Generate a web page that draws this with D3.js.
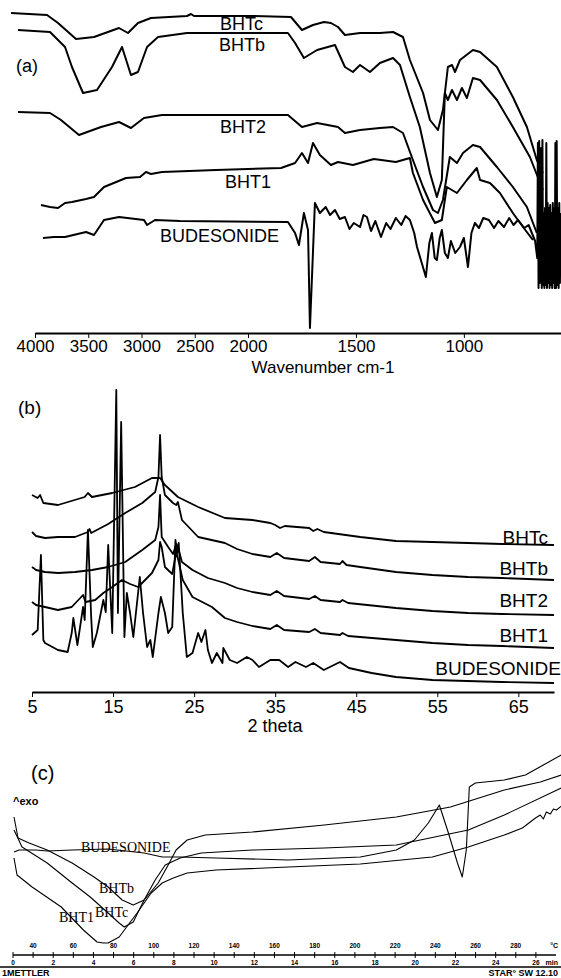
<!DOCTYPE html>
<html>
<head>
<meta charset="utf-8">
<style>
  body { margin: 0; background: #fff; }
  svg { display: block; }
  .ax text { font-family: Arial, "Liberation Sans", sans-serif; fill: #000; }
  .ax path, .ax line { stroke: #000; }
</style>
</head>
<body>
<svg id="chart" width="561" height="978"></svg>
<script src="https://cdn.jsdelivr.net/npm/d3@7"></script>
<script>
// ---------- (a) FTIR : [wavenumber cm-1, transmittance (a.u., offset)] ----------
const ftirTicks = [4000, 3500, 3000, 2500, 2000, 1500, 1000];
const ftirBHTc = [[4225,320],[3887,318],[3784,310],[3615,294],[3446,296],[3211,305],[3127,300],[3033,310],[2911,315],[2573,317],[2535,319],[2507,317],[1981,317],[1801,316],[1750,303],[1699,308],[1648,311],[1616,310],[1583,306],[1551,298],[1481,300],[1389,300],[1328,301],[1282,296],[1250,273],[1189,240],[1157,213],[1120,203],[1097,223],[1074,266],[1055,268],[1041,261],[1018,273],[958,283],[925,281],[847,266],[773,236],[708,206],[662,173],[634,160]];
const ftirBHTb = [[4160,303],[3859,301],[3718,286],[3653,266],[3549,240],[3418,243],[3277,266],[3183,286],[3099,258],[3033,261],[2948,286],[2845,296],[2573,300],[1815,300],[1782,290],[1741,275],[1680,283],[1597,288],[1551,266],[1514,261],[1481,268],[1435,261],[1389,270],[1328,275],[1296,268],[1250,236],[1204,206],[1157,160],[1125,136],[1102,153],[1088,240],[1074,233],[1055,243],[1032,233],[1009,245],[986,235],[958,255],[925,253],[847,233],[773,206],[694,176],[634,143]];
const ftirBHT2 = [[4160,221],[3859,220],[3756,213],[3587,198],[3380,206],[3211,211],[3099,205],[2977,215],[2808,218],[1815,218],[1750,206],[1680,210],[1583,206],[1551,200],[1481,203],[1389,205],[1328,206],[1282,200],[1236,173],[1189,146],[1143,123],[1120,120],[1097,133],[1065,176],[1032,170],[1004,180],[958,188],[925,186],[847,166],[773,146],[708,126],[662,100]];
const ftirBHT1 = [[3944,128],[3859,126],[3784,125],[3718,130],[3653,131],[3521,134],[3446,136],[3352,146],[3146,155],[3014,156],[2958,161],[2911,159],[2808,161],[2300,163],[1847,165],[1782,170],[1750,180],[1722,170],[1699,190],[1667,178],[1616,168],[1583,171],[1514,168],[1417,174],[1315,171],[1250,175],[1236,160],[1189,133],[1134,110],[1102,113],[1079,146],[1032,140],[986,153],[940,165],[925,153],[879,150],[833,140],[773,120],[726,106],[680,93]];
const ftirBUD = [[3925,95],[3822,96],[3718,96],[3521,101],[3446,98],[3352,113],[3211,116],[2977,113],[2948,108],[2873,113],[2638,112],[1815,111],[1782,100],[1764,88],[1741,120],[1722,103],[1713,5],[1690,130],[1667,120],[1640,126],[1620,118],[1597,123],[1575,114],[1551,116],[1530,104],[1510,110],[1481,106],[1465,118],[1449,116],[1430,102],[1410,112],[1384,96],[1360,110],[1340,104],[1315,115],[1290,108],[1270,117],[1250,113],[1230,100],[1217,86],[1195,70],[1176,56],[1160,90],[1148,100],[1135,75],[1125,73],[1112,95],[1102,103],[1088,80],[1074,75],[1060,92],[1040,80],[1018,86],[1000,95],[981,66],[965,100],[949,110],[930,105],[910,115],[884,113],[860,105],[840,112],[814,106],[790,115],[770,108],[749,113],[720,105],[700,108],[685,100],[670,92],[660,75],
  [657,190],[654,45],[651,192],[648,50],[645,70],[642,185],[639,45],[636,193],[633,48],[630,120],[627,45],[624,125],[621,48],[618,190],[615,45],[612,130],[609,50],[606,125],[603,45],[600,128],[597,48],[594,120],[591,45],[588,130],[585,50],[582,125],[579,45],[576,190],[573,45],[570,192],[567,48],[564,125],[561,45],[558,130],[555,50],[552,120]];

// ---------- (b) XRD : [2 theta, intensity (a.u., offset)] ----------
const xrdTicks = [5, 15, 25, 35, 45, 55, 65];
const xrdBHTc = [[5.0,197],[5.7,194],[6.0,197],[6.4,189],[8.2,187],[11.5,195],[11.9,199],[12.4,195],[14.9,199],[17.7,205],[19.8,214],[20.8,214],[21.4,207],[23.0,195],[25.5,185],[28.8,174],[32.2,172],[34.4,169],[35.0,167],[35.6,164],[36.2,166],[39.2,164],[39.7,161],[40.2,163],[41.0,160],[45.5,155],[49.9,151],[54.4,150],[58.8,149],[63.0,148],[69.4,147]];
const xrdBHTb = [[5.0,160],[5.5,156],[6.6,154],[8.2,155],[10.3,155],[11.9,160],[12.1,163],[12.3,159],[14.4,168],[16.5,179],[18.6,189],[20.2,200],[20.6,215],[20.8,257],[21.0,215],[21.4,197],[22.4,189],[22.8,187],[23.0,190],[23.5,172],[25.5,155],[28.8,149],[30.3,143],[32.2,138],[34.4,135],[35.2,139],[36.1,134],[39.2,131],[39.9,135],[40.6,130],[43.0,128],[43.3,131],[43.8,127],[45.5,125],[49.9,120],[54.4,117],[58.8,115],[63.0,114],[69.4,112]];
const xrdBHT2 = [[5.0,125],[5.5,122],[6.6,120],[8.2,119],[10.3,120],[12.4,122],[14.4,125],[16.5,130],[18.6,142],[20.2,152],[20.6,165],[20.8,197],[21.0,155],[21.8,145],[22.4,138],[22.8,148],[23.0,145],[23.5,130],[24.8,122],[26.7,114],[28.8,109],[30.3,104],[32.2,100],[34.4,97],[35.2,101],[36.1,96],[39.2,93],[39.9,96],[40.6,92],[43.0,90],[43.3,92],[44.0,89],[49.9,84],[54.4,81],[58.8,79],[63.0,78],[69.4,77]];
const xrdBHT1 = [[5.0,90],[5.5,87],[6.6,85],[8.2,82],[9.9,85],[11.3,97],[11.6,90],[12.8,92],[13.8,99],[14.9,105],[16.1,112],[17.1,108],[18.1,105],[19.8,119],[20.6,132],[20.8,150],[21.0,145],[21.4,125],[22.3,118],[22.8,140],[23.1,130],[23.6,112],[24.8,95],[27.2,85],[28.8,74],[30.3,70],[32.2,66],[34.4,63],[35.2,67],[36.1,62],[39.2,60],[39.9,63],[40.6,59],[43.0,57],[43.3,59],[44.0,56],[49.9,52],[54.4,49],[58.8,47],[63.0,46],[69.4,44]];
const xrdBUD = [[5.0,57],[5.7,62],[6.1,137],[6.4,52],[6.6,49],[8.2,42],[9.4,40],[9.9,59],[10.1,74],[10.6,47],[11.3,85],[11.5,72],[11.9,162],[12.3,75],[12.5,45],[13.0,59],[13.8,92],[14.1,80],[14.4,147],[14.9,59],[15.4,302],[15.6,79],[16.0,270],[16.4,55],[16.7,99],[17.1,79],[17.5,55],[18.3,115],[18.7,79],[19.2,45],[19.6,52],[19.9,35],[20.6,79],[20.9,95],[21.4,79],[21.8,59],[22.3,65],[22.7,152],[22.9,139],[23.1,149],[23.6,79],[24.1,35],[24.8,39],[25.5,59],[25.9,50],[26.4,62],[26.7,42],[27.2,29],[27.8,39],[28.5,29],[28.6,44],[29.4,32],[30.3,29],[31.5,35],[32.2,32],[33.0,25],[34.4,32],[35.5,32],[36.6,25],[37.5,30],[38.8,25],[39.7,29],[41.0,22],[43.0,30],[44.1,24],[46.9,19],[49.9,15],[54.4,12],[63.0,10],[69.4,9]];

// ---------- (c) DSC : [temperature °C, heat flow (a.u., offset)] ----------
const dscTempLabels = [40, 60, 80, 100, 120, 140, 160, 180, 200, 220, 240, 260, 280];
const dscMinLabels = [0, 2, 4, 6, 8, 10, 12, 14, 16, 18, 20, 22, 24, 26];
const dscBUD = [[30.5,128],[33,130],[41.5,130],[47,129],[59.4,130],[77.3,131],[95.2,127],[104.2,123],[113.1,123],[131,122],[166.9,120],[202.7,123],[220.6,130],[229.6,140],[236.5,157],[242,175],[246.5,147],[251,117],[253.4,103],[255.4,130],[256.9,193],[259.9,197],[274.3,200],[284.8,205],[293.7,215],[302.7,225]];
const dscBHTb = [[30.5,163],[32.5,142],[38,137],[47,130],[59.4,117],[70.3,103],[77.3,93],[84.3,80],[89.8,75],[95.2,80],[102.2,97],[107.7,117],[111.1,130],[116.6,140],[125.6,145],[149,148],[184.8,155],[220.6,163],[247.5,173],[274.3,190],[292.2,198],[302.7,205]];
const dscBHTc = [[30.5,150],[34.5,133],[47,117],[59.4,97],[68.4,83],[77.3,67],[82.8,57],[85.3,53],[89.8,58],[95.2,80],[100.7,100],[105.7,115],[113.1,122],[123.6,127],[149,130],[184.8,132],[220.6,135],[256.4,150],[274.3,165],[302.7,192]];
const dscBHT1 = [[30.5,122],[32,105],[39.5,93],[54,73],[65,50],[71.8,38],[74.8,37],[77.3,37],[82.8,43],[91.7,67],[98.7,87],[104.2,97],[109.7,102],[116.6,107],[131,110],[166.9,113],[202.7,116],[238.5,123],[256.4,133],[274.3,145],[283.3,152],[289.8,162],[292.2,165],[293.7,161],[295.2,168],[297.2,166],[298.7,171],[300.2,170],[302.7,174]];

const svg = d3.select("#chart");
const sans = "Arial, 'Liberation Sans', sans-serif";
const serif = "'Times New Roman', 'Liberation Serif', serif";

function drawLines(g, x, y, series, width) {
  const line = d3.line().x(d => x(d[0])).y(d => y(d[1]));
  g.selectAll("path.s").data(series).join("path")
    .attr("class", "s")
    .attr("d", line)
    .attr("fill", "none")
    .attr("stroke", "#000")
    .attr("stroke-width", width)
    .attr("stroke-linejoin", "round");
}

function labels(g, items, font, size, anchor) {
  g.selectAll("text.l").data(items).join("text")
    .attr("class", "l")
    .attr("x", d => d[1]).attr("y", d => d[2])
    .attr("text-anchor", anchor || "start")
    .attr("font-family", font).attr("font-size", size)
    .text(d => d[0]);
}

// ----- panel (a) -----
const xA = d3.scaleLinear().domain([4000, 2000, 550]).range([35, 248, 561]);
const yA = d3.scaleLinear().domain([0, 320]).range([333, 13]);
const gA = svg.append("g");
drawLines(gA, xA, yA, [ftirBHTc, ftirBHTb, ftirBHT2, ftirBHT1, ftirBUD], 2);
gA.append("g").attr("class", "ax").attr("transform", "translate(0,333)")
  .call(d3.axisBottom(xA).tickValues(ftirTicks).tickSize(5).tickSizeOuter(0).tickPadding(2).tickFormat(d3.format("d")))
  .call(g => g.selectAll("text").attr("font-size", 17))
  .call(g => g.select(".domain").attr("stroke-width", 2));
labels(gA, [["(a)", 16, 72], ["BHTc", 220, 30], ["BHTb", 219, 51], ["BHT2", 220, 133], ["BHT1", 225, 188], ["BUDESONIDE", 160, 242]], sans, 18);
gA.append("text").attr("x", 323).attr("y", 373).attr("text-anchor", "middle")
  .attr("font-family", sans).attr("font-size", 17).text("Wavenumber cm-1");

// ----- panel (b) -----
const xB = d3.scaleLinear().domain([5, 69.4]).range([32, 554]);
const yB = d3.scaleLinear().domain([0, 300]).range([692, 392]);
const gB = svg.append("g");
drawLines(gB, xB, yB, [xrdBHTc, xrdBHTb, xrdBHT2, xrdBHT1, xrdBUD], 1.8);
gB.append("g").attr("class", "ax").attr("transform", "translate(0,692)")
  .call(d3.axisBottom(xB).tickValues(xrdTicks).tickSize(5).tickSizeOuter(0).tickPadding(3))
  .call(g => g.selectAll("text").attr("font-size", 18))
  .call(g => g.select(".domain").attr("stroke-width", 2));
labels(gB, [["(b)", 18, 414]], sans, 19);
labels(gB.append("g"), [["BHTc", 548, 544], ["BHTb", 548, 575], ["BHT2", 548, 607], ["BHT1", 548, 642], ["BUDESONIDE", 561, 675]], sans, 19, "end");
gB.append("text").attr("x", 275).attr("y", 732).attr("text-anchor", "middle")
  .attr("font-family", sans).attr("font-size", 18).text("2 theta");

// ----- panel (c) -----
const xC = d3.scaleLinear().domain([30, 300]).range([13, 556]);
const tC = d3.scaleLinear().domain([0, 27]).range([13, 556]);
const yC = d3.scaleLinear().domain([0, 240]).range([980, 740]);
const gC = svg.append("g");
drawLines(gC, xC, yC, [dscBUD, dscBHTb, dscBHTc, dscBHT1], 1.1);
labels(gC, [["(c)", 31, 780]], sans, 20);
gC.append("text").attr("x", 13).attr("y", 805).attr("font-family", sans)
  .attr("font-size", 11).attr("font-weight", "bold").text("^exo");
labels(gC.append("g"), [["BUDESONIDE", 81, 852], ["BHTb", 99, 893], ["BHT1", 59, 922], ["BHTc", 95, 917]], serif, 14);

const axC = gC.append("g").attr("class", "ax");
axC.append("line").attr("x1", tC(0)).attr("x2", tC(27)).attr("y1", 955).attr("y2", 955).attr("stroke-width", 1.3);
axC.selectAll("line.tk").data(d3.range(0, 27)).join("line").attr("class", "tk")
  .attr("x1", d => tC(d)).attr("x2", d => tC(d)).attr("y1", 952).attr("y2", 958).attr("stroke-width", 1);
axC.selectAll("text.tt").data(dscTempLabels).join("text").attr("class", "tt")
  .attr("x", d => xC(d)).attr("y", 948).attr("text-anchor", "middle")
  .attr("font-size", 6.5).attr("font-weight", "bold").text(d => d);
axC.selectAll("text.tm").data(dscMinLabels).join("text").attr("class", "tm")
  .attr("x", d => tC(d)).attr("y", 965).attr("text-anchor", "middle")
  .attr("font-size", 6.5).attr("font-weight", "bold").text(d => d);
axC.append("text").attr("x", 558).attr("y", 948).attr("text-anchor", "end").attr("font-size", 7).attr("font-weight", "bold").text("°C");
axC.append("text").attr("x", 558).attr("y", 965).attr("text-anchor", "end").attr("font-size", 7).attr("font-weight", "bold").text("min");
axC.append("line").attr("x1", 0).attr("x2", 561).attr("y1", 967).attr("y2", 967).attr("stroke-width", 1.3);
axC.append("text").attr("x", 2).attr("y", 976).attr("font-size", 9).attr("font-weight", "bold").text("1METTLER");
axC.append("text").attr("x", 558).attr("y", 976).attr("text-anchor", "end").attr("font-size", 9).attr("font-weight", "bold").text("STAR° SW 12.10");
</script>
</body>
</html>
